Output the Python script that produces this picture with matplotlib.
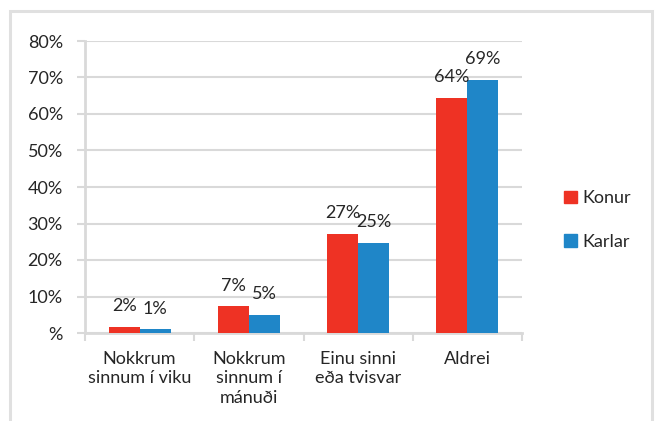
import numpy as np
import matplotlib.pyplot as plt
from matplotlib.patches import Patch, Rectangle

plt.rcParams['font.family'] = ['Lato', 'DejaVu Sans']

categories = ["Nokkrum\nsinnum í viku", "Nokkrum\nsinnum í\nmánuði", "Einu sinni\neða tvisvar", "Aldrei"]
konur = [1.6, 7.3, 27.2, 64.3]
karlar = [1.0, 5.0, 24.6, 69.4]
series_names = ["Konur", "Karlar"]
y_ticks = [0, 10, 20, 30, 40, 50, 60, 70, 80]
y_labels = ["%", "10%", "20%", "30%", "40%", "50%", "60%", "70%", "80%"]

red = "#EE3224"
blue = "#1F86C8"
grid = "#D9D9D9"
txt = "#262626"
fs = 13

fig = plt.figure(figsize=(6.59, 4.21), dpi=100)
ax = fig.add_axes([85 / 659, 88 / 421, (522 - 85) / 659, (333 - 41) / 421])

# outer chart border
fig.patches.append(Rectangle((10 / 659, -0.05), 642 / 659, 1.05 - 11 / 421,
                             transform=fig.transFigure, fill=False,
                             edgecolor="#E0E0E0", linewidth=2.2, clip_on=False))

x = np.arange(len(categories))
w = 0.283
b1 = ax.bar(x - w / 2, konur, w, color=red, zorder=3)
b2 = ax.bar(x + w / 2, karlar, w, color=blue, zorder=3)

for bars, vals in ((b1, konur), (b2, karlar)):
    for r, v in zip(bars, vals):
        ax.annotate(f"{v:.0f}%", (r.get_x() + r.get_width() / 2, v),
                    xytext=(0, 15), textcoords="offset points",
                    ha="center", va="center", fontsize=fs, color=txt)

ax.set_xlim(-0.5, len(categories) - 0.5)
ax.set_ylim(0, 80)
ax.set_yticks(y_ticks)
ax.set_yticklabels(y_labels)
ax.yaxis.grid(True, color=grid, linewidth=1.5, zorder=0)
ax.set_axisbelow(True)

ax.set_xticks(x)
ax.set_xticklabels(categories, linespacing=1.25)
ax.set_xticks(np.arange(-0.5, len(categories)), minor=True)
ax.tick_params(axis="x", which="major", length=0, pad=13, labelsize=fs, labelcolor=txt)
ax.tick_params(axis="x", which="minor", length=6, width=1.5, color=grid)
ax.tick_params(axis="y", length=6, width=1.5, color=grid, pad=10, labelsize=fs, labelcolor=txt)

for s in ("top", "right"):
    ax.spines[s].set_visible(False)
for s in ("left", "bottom"):
    ax.spines[s].set_color(grid)
    ax.spines[s].set_linewidth(2)

handles = [Patch(color=red), Patch(color=blue)]
fig.legend(handles, series_names, loc="center left", bbox_to_anchor=(548 / 659, 1 - 220 / 421),
           frameon=False, fontsize=fs, handlelength=0.7, handleheight=0.7,
           handletextpad=0.3, labelspacing=1.5, labelcolor=txt)

fig.savefig("out.png", dpi=100)
